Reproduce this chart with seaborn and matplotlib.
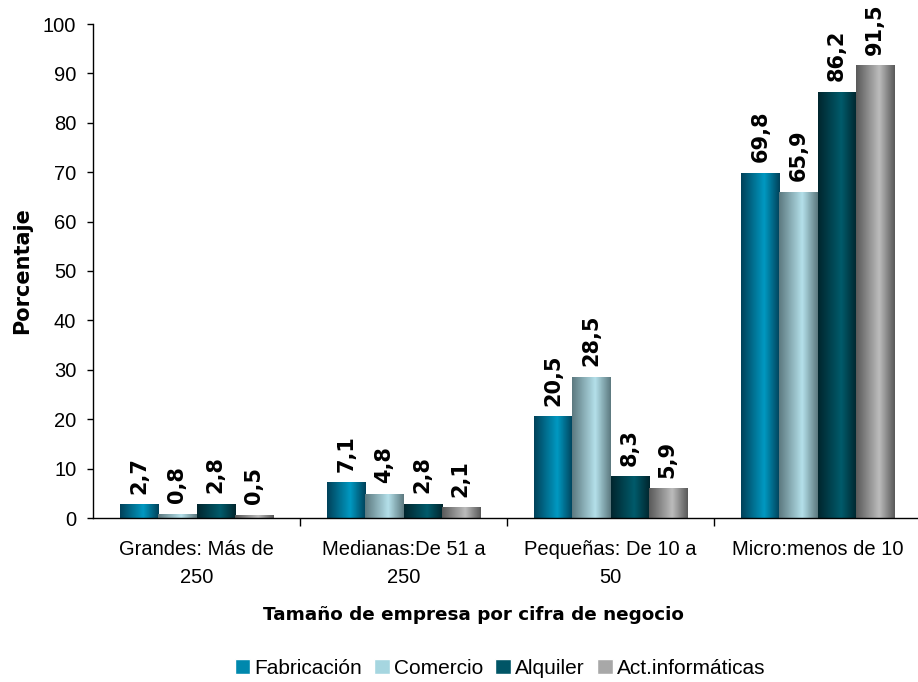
import numpy as np
import pandas as pd
import matplotlib.pyplot as plt
import matplotlib.colors as mcolors
from matplotlib.patches import Patch
import seaborn as sns

# Data
categories = ['Grandes: Más de\n250', 'Medianas:De 51 a\n250',
              'Pequeñas: De 10 a\n50', 'Micro:menos de 10']
sectors = ['Fabricación', 'Comercio', 'Alquiler', 'Act.informáticas']
fabricacion = [2.7, 7.1, 20.5, 69.8]
comercio = [0.8, 4.8, 28.5, 65.9]
alquiler = [2.8, 2.8, 8.3, 86.2]
act_informaticas = [0.5, 2.1, 5.9, 91.5]

# gradient (edge, center) colours per series
grad_colors = {
    'Fabricación': ('#00425a', '#0099c2'),
    'Comercio': ('#5d7a80', '#b4e0ea'),
    'Alquiler': ('#00262e', '#005b6b'),
    'Act.informáticas': ('#5a5a5a', '#bcbcbc'),
}
solid_colors = {
    'Fabricación': '#0088ad',
    'Comercio': '#a6d6e0',
    'Alquiler': '#005566',
    'Act.informáticas': '#a8a8a8',
}

rows = []
for s, vals in zip(sectors, [fabricacion, comercio, alquiler, act_informaticas]):
    for c, v in zip(categories, vals):
        rows.append({'categoria': c, 'sector': s, 'valor': v})
df = pd.DataFrame(rows)

sns.set_style('white')
plt.rcParams['font.family'] = ['Liberation Sans', 'DejaVu Sans']
plt.rcParams['text.color'] = 'black'
plt.rcParams['xtick.color'] = 'black'
plt.rcParams['ytick.color'] = 'black'
plt.rcParams['axes.labelcolor'] = 'black'

fig = plt.figure(figsize=(9.18, 6.82), dpi=100)
ax = fig.add_axes([93 / 918, 164 / 682, 828 / 918, 494 / 682])

sns.barplot(data=df, x='categoria', y='valor', hue='sector', hue_order=sectors,
            palette=solid_colors, width=0.735, ax=ax, legend=False,
            linewidth=0, saturation=1)

# paint a horizontal gradient over each bar
for container, s in zip(ax.containers, sectors):
    edge, center = grad_colors[s]
    cmap = mcolors.LinearSegmentedColormap.from_list(
        s, [(0, edge), (0.6, center), (1, edge)])
    grad = np.linspace(0, 1, 64).reshape(1, -1)
    for bar in container:
        x0, y0 = bar.get_x(), bar.get_y()
        w, h = bar.get_width(), bar.get_height()
        ax.imshow(grad, extent=[x0, x0 + w, y0, y0 + h], aspect='auto',
                  cmap=cmap, zorder=bar.get_zorder() + 0.1, interpolation='bilinear')
    labels = [f'{b.get_height():.1f}'.replace('.', ',') for b in container]
    ax.bar_label(container, labels=labels, rotation=90, padding=8,
                 fontsize=15, fontweight='bold', family='DejaVu Sans',
                 color='black')

ax.set_xlim(-0.5, 3.5)
ax.set_ylim(0, 100)

ax.set_yticks(range(0, 101, 10))
ax.tick_params(axis='y', labelsize=14.5, length=4.5, width=1, color='black',
               left=True, direction='out', pad=7.5)
ax.set_xticks(range(4))
ax.set_xticklabels(categories, fontsize=14.5)
for lab in ax.get_xticklabels():
    lab.set_linespacing(1.6)
ax.set_xticks([0.5, 1.5, 2.5, 3.5], minor=True)
ax.tick_params(axis='x', which='major', length=0, pad=16)
ax.tick_params(axis='x', which='minor', length=6, width=1, color='black',
               bottom=True, direction='out')

for side in ['top', 'right']:
    ax.spines[side].set_visible(False)
for side in ['left', 'bottom']:
    ax.spines[side].set_color('black')
    ax.spines[side].set_linewidth(1)

ax.set_xlabel('')
ax.set_ylabel('')
fig.text(22 / 918, 1 - 271 / 682, 'Porcentaje', rotation=90, ha='center',
         va='center', fontsize=15, fontweight='bold', family='DejaVu Sans')

fig.text(473 / 918, 1 - 620 / 682, 'Tamaño de empresa por cifra de negocio',
         ha='center', va='baseline', fontsize=13.2, fontweight='bold',
         family='DejaVu Sans')

handles = [Patch(facecolor=solid_colors[s], label=s) for s in sectors]
fig.legend(handles=handles, loc='center', bbox_to_anchor=(500 / 918, 1 - 668 / 682),
           ncol=4, frameon=False, fontsize=15, handlelength=0.75, handleheight=0.7,
           handletextpad=0.2, columnspacing=0.58)

fig.savefig('out.png', dpi=100)
